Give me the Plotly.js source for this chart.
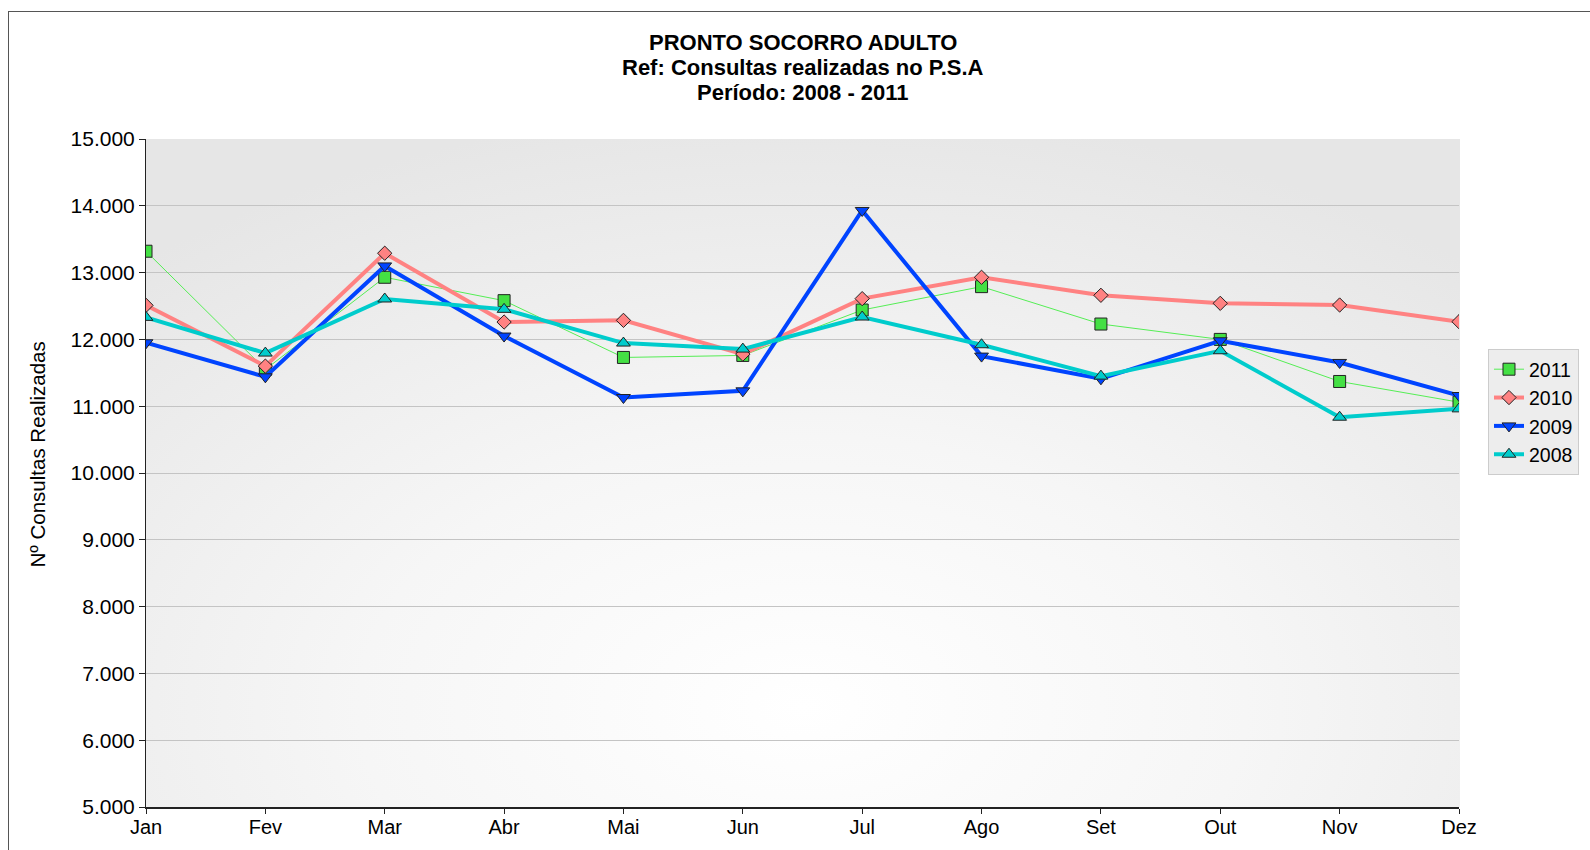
<!DOCTYPE html>
<html><head><meta charset="utf-8">
<script src="https://cdn.plot.ly/plotly-3.0.1.min.js"></script>
<style>
html,body{margin:0;padding:0;background:#fff;overflow:hidden;width:1590px;height:850px;}
#frame{position:absolute;left:8px;top:11px;width:1600px;height:900px;border:1px solid #555;box-sizing:border-box;}
#bg{position:absolute;left:146px;top:139px;width:1314px;height:668px;
background:radial-gradient(ellipse 75% 90% at 50% 85%, #ffffff 0%, #f6f6f6 45%, #e6e6e6 100%);}
#chart{position:absolute;left:0;top:0;width:1590px;height:850px;}
</style></head>
<body>
<div id="frame"></div>
<div id="bg"></div>
<div id="chart"></div>
<script>
const months = ["Jan","Fev","Mar","Abr","Mai","Jun","Jul","Ago","Set","Out","Nov","Dez"];
const y2011 = [13320,11550,12930,12580,11730,11760,12440,12790,12230,12000,11370,11060];
const y2010 = [12510,11600,13290,12260,12285,11780,12610,12930,12660,12540,12515,12265];
const y2009 = [11950,11440,13100,12050,11130,11230,13930,11750,11410,11980,11655,11160];
const y2008 = [12330,11795,12605,12450,11945,11855,12335,11920,11450,11830,10835,10960];
const titleLines = ["PRONTO SOCORRO ADULTO", "Ref: Consultas realizadas no P.S.A", "Período: 2008 - 2011"];
const yTitle = "Nº Consultas Realizadas";

const FONT = 'Liberation Sans, Arial, sans-serif';
const mk = (sym, col, size) => ({symbol: sym, color: col, size: size, line:{color:'#222', width:1}});
const traces = [
  {x: months, y: y2011, name: '2011', mode:'lines+markers', line:{color:'#55ee55', width:1}, marker: mk('square','#44e044',12)},
  {x: months, y: y2010, name: '2010', mode:'lines+markers', line:{color:'#ff8282', width:4}, marker: mk('diamond','#ff8282',11)},
  {x: months, y: y2009, name: '2009', mode:'lines+markers', line:{color:'#0044ff', width:4}, marker: mk('triangle-down','#0044ff',12)},
  {x: months, y: y2008, name: '2008', mode:'lines+markers', line:{color:'#00cccc', width:4}, marker: mk('triangle-up','#00cccc',12)}
];
const titleY = [1.1452, 1.1063, 1.0689];
const annotations = titleLines.map((t,i) => ({
  text:'<b>'+t+'</b>', xref:'paper', yref:'paper', x:0.5, y:titleY[i], xanchor:'center', yanchor:'middle',
  showarrow:false, font:{size:22, family:FONT, color:'#000'}
}));
annotations.push({text:yTitle, xref:'paper', yref:'paper', x:-0.0826, y:0.527, xanchor:'center', yanchor:'middle',
  textangle:-90, showarrow:false, font:{size:20.5, family:FONT, color:'#000'}});
const layout = {
  width:1590, height:850,
  paper_bgcolor:'rgba(0,0,0,0)', plot_bgcolor:'rgba(0,0,0,0)',
  separators:',.',
  font:{family:FONT, color:'#000', size:20},
  margin:{l:146, r:130, t:139, b:43},
  annotations: annotations,
  xaxis:{type:'category', range:[0,11], showgrid:false, showline:true, linecolor:'#222', linewidth:2,
    ticks:'outside', ticklen:5, tickcolor:'#222', tickfont:{size:20}, zeroline:false, ticklabelstandoff:-4},
  yaxis:{range:[5000,15000], dtick:1000, tickformat:',d', showgrid:true, gridcolor:'#c4c4c4', gridwidth:1,
    showline:true, linecolor:'#222', linewidth:1, ticks:'outside', ticklen:6, tickcolor:'#222',
    tickfont:{size:21}, zeroline:false},
  legend:{x:1.0213, xanchor:'left', y:0.6856, yanchor:'top', bgcolor:'#ededed', bordercolor:'#cccccc', borderwidth:1,
    font:{size:19.5}, tracegroupgap:0, itemwidth:30},
  showlegend:true
};
Plotly.newPlot('chart', traces, layout, {displayModeBar:false, staticPlot:true});
</script>
</body></html>
